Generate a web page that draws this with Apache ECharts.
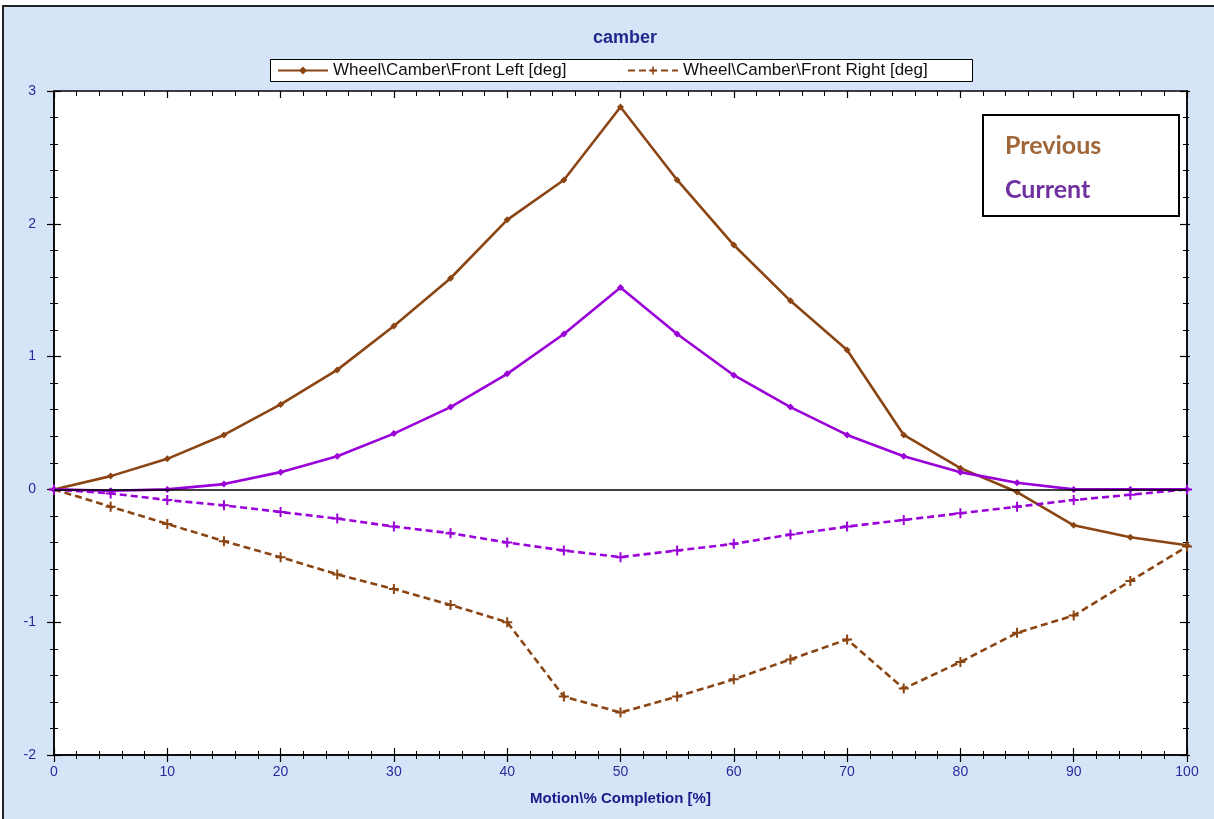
<!DOCTYPE html>
<html>
<head>
<meta charset="utf-8">
<script src="https://cdn.jsdelivr.net/npm/echarts@6/dist/echarts.min.js"></script>
<style>
  html, body { margin: 0; padding: 0; background: #fff; }
  #main { width: 1214px; height: 819px; }
</style>
</head>
<body>
<div id="main"></div>
<script>
// motion % (x axis)
var motion = [0, 5, 10, 15, 20, 25, 30, 35, 40, 45, 50, 55, 60, 65, 70, 75, 80, 85, 90, 95, 100]
// previous run (brown)
var prevLeft = [0, 0.10, 0.23, 0.41, 0.64, 0.90, 1.23, 1.59, 2.03, 2.33, 2.88, 2.33, 1.84, 1.42, 1.05, 0.41, 0.16, -0.02, -0.27, -0.36, -0.42]
var prevRight = [0, -0.13, -0.26, -0.39, -0.51, -0.64, -0.75, -0.87, -1.00, -1.56, -1.68, -1.56, -1.43, -1.28, -1.13, -1.50, -1.30, -1.08, -0.95, -0.69, -0.43]
// current run (purple)
var curLeft = [0, -0.01, 0, 0.04, 0.13, 0.25, 0.42, 0.62, 0.87, 1.17, 1.52, 1.17, 0.86, 0.62, 0.41, 0.25, 0.13, 0.05, 0, 0, 0]
var curRight = [0, -0.03, -0.08, -0.12, -0.17, -0.22, -0.28, -0.33, -0.40, -0.46, -0.51, -0.46, -0.41, -0.34, -0.28, -0.23, -0.18, -0.13, -0.08, -0.04, 0]

var nameLeft = 'Wheel\\Camber\\Front Left [deg]'
var nameRight = 'Wheel\\Camber\\Front Right [deg]'

var brown = '#8b4513'
var purple = '#9a00d8'
var labelColor = '#2a2a9a'
var plusIcon = 'path://M4,0H6V4H10V6H6V10H4V6H0V4H4Z'

function pairs(ys) {
  var out = []
  for (var i = 0; i < motion.length; i++) out.push([motion[i], ys[i]])
  return out
}

function lineSeries(name, ys, color, dashed) {
  return {
    type: 'line',
    name: name,
    data: pairs(ys),
    symbol: dashed ? plusIcon : 'diamond',
    symbolSize: dashed ? 10 : 7,
    showAllSymbol: true,
    itemStyle: { color: color },
    lineStyle: { color: color, width: 2.6, type: dashed ? [7, 4] : 'solid' },
    emphasis: { disabled: true },
    animation: false
  }
}

// extra axes are only drawn for the tick marks on the plot frame
function xAx(pos, inside, len, minorLen, labels) {
  return {
    type: 'value', position: pos, min: 0, max: 100, interval: 10,
    axisLine: { show: true, onZero: false, lineStyle: { color: '#000', width: 1.5 } },
    axisTick: { show: true, inside: inside, length: len, lineStyle: { color: '#000', width: 1.2 } },
    minorTick: { show: true, splitNumber: 5, length: minorLen, lineStyle: { color: '#000', width: 1 } },
    axisLabel: { show: labels, color: labelColor, fontSize: 14, fontFamily: 'Liberation Sans', margin: 10 },
    splitLine: { show: false }
  }
}
function yAx(pos, inside, len, minorLen, labels) {
  return {
    type: 'value', position: pos, min: -2, max: 3, interval: 1,
    axisLine: { show: true, onZero: false, lineStyle: { color: '#000', width: 1.5 } },
    axisTick: { show: true, inside: inside, length: len, lineStyle: { color: '#000', width: 1.2 } },
    minorTick: { show: true, splitNumber: 5, length: minorLen, lineStyle: { color: '#000', width: 1 } },
    axisLabel: { show: labels, color: labelColor, fontSize: 14, fontFamily: 'Liberation Sans', margin: 18 },
    splitLine: { show: false }
  }
}

function legendAt(name, x) {
  return {
    data: [name], left: x, top: 62, padding: 0,
    itemWidth: 50, itemHeight: 10,
    textStyle: { color: '#111', fontSize: 17, fontFamily: 'Liberation Sans' }
  }
}

var xBottom = xAx('bottom', false, 7, 4, true)
xBottom.name = 'Motion\\% Completion [%]'
xBottom.nameLocation = 'middle'
xBottom.nameGap = 36
xBottom.nameTextStyle = { color: '#1a1a8a', fontSize: 15, fontWeight: 'bold', fontFamily: 'Liberation Sans' }

var series = [
  lineSeries(nameLeft, prevLeft, brown, false),
  lineSeries(nameRight, prevRight, brown, true),
  lineSeries('Current Left', curLeft, purple, false),
  lineSeries('Current Right', curRight, purple, true)
]
series[0].markLine = {
  silent: true, symbol: 'none', label: { show: false },
  lineStyle: { color: '#000', width: 1.5, type: 'solid' },
  data: [{ yAxis: 0 }], animation: false
}
series[0].z = 3

var chart = echarts.init(document.getElementById('main'))
chart.setOption({
  backgroundColor: '#fff',
  animation: false,
  title: {
    text: 'camber', left: 620, top: 24, textAlign: 'center',
    textStyle: { color: '#1f2a8c', fontSize: 18, fontWeight: 'bold', fontFamily: 'Liberation Sans' }
  },
  legend: [
    legendAt(nameLeft, 277),
    legendAt(nameRight, 627)
  ],
  graphic: [
    {
      type: 'rect', z: -10, silent: true,
      shape: { x: 3, y: 6, width: 1214, height: 820 },
      style: { fill: '#d6e4f7', stroke: '#222', lineWidth: 2 }
    },
    {
      type: 'rect', z: -5, silent: true,
      shape: { x: 270.5, y: 59.5, width: 702, height: 22 },
      style: { fill: '#fff', stroke: '#000', lineWidth: 1 }
    },
    {
      type: 'group', left: 982, top: 114, z: 100,
      children: [
        { type: 'rect', shape: { x: 0, y: 0, width: 196, height: 101 }, style: { fill: '#fff', stroke: '#000', lineWidth: 2 } },
        { type: 'text', x: 22, y: 18, style: { text: 'Previous', fill: '#a0673a', font: 'bold 25px Lato' } },
        { type: 'text', x: 22, y: 62, style: { text: 'Current', fill: '#7030a0', font: 'bold 25px Lato' } }
      ]
    }
  ],
  grid: {
    left: 54, right: 27, top: 91, bottom: 64,
    show: true, backgroundColor: '#fff', borderWidth: 0
  },
  xAxis: [
    xBottom,
    xAx('bottom', true, 7, 4, false),
    xAx('top', true, 7, 5, false)
  ],
  yAxis: [
    yAx('left', false, 7, 4, true),
    yAx('left', true, 7, 4, false),
    yAx('right', true, 7, 4, false),
    yAx('right', false, 3, 2, false)
  ],
  series: series
})
</script>
</body>
</html>
